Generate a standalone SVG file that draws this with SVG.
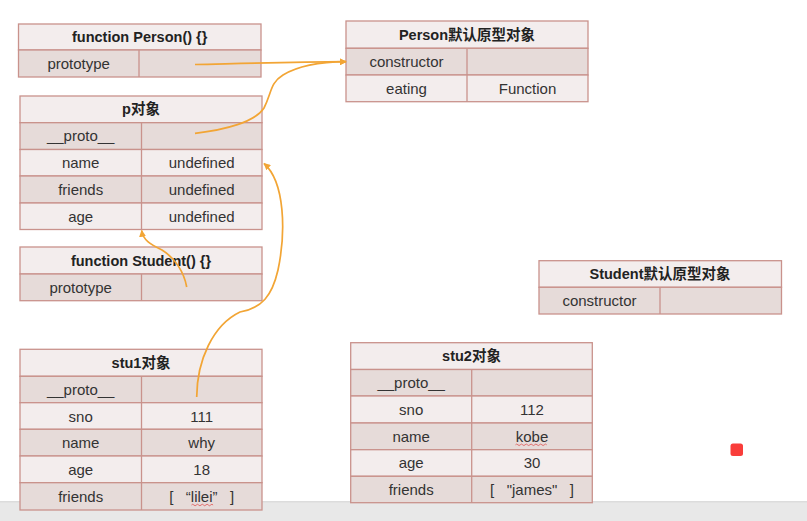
<svg xmlns="http://www.w3.org/2000/svg" width="807" height="521" viewBox="0 0 807 521">
<defs>
<style>
.hd{fill:#f3eded;stroke:#c9928c;stroke-width:1.3}
.dk{fill:#e6dbd9;stroke:#c9928c;stroke-width:1.3}
.lt{fill:#f3eded;stroke:#c9928c;stroke-width:1.3}
.dv{stroke:#c9928c;stroke-width:1.3}
.t{font-family:"Liberation Sans","Noto Sans CJK SC",sans-serif;font-size:15px;fill:#333;text-anchor:middle}
.b{font-family:"Liberation Sans","Noto Sans CJK SC",sans-serif;font-size:14.5px;font-weight:bold;fill:#222;text-anchor:middle}
.c{fill:none;stroke:#f2a535;stroke-width:1.7}
.sq{fill:none;stroke:#e05050;stroke-width:0.8}
</style>
<marker id="ah" viewBox="0 0 10 10" refX="9" refY="5" markerWidth="7" markerHeight="7" markerUnits="userSpaceOnUse" orient="auto">
<path d="M0,0 L10,5 L0,10 Z" fill="#f2a535"/>
</marker>
</defs>
<rect x="0" y="0" width="807" height="521" fill="#ffffff"/>
<rect x="0" y="501" width="807" height="20" fill="#e8e8e8"/>
<rect x="0" y="501" width="807" height="1.5" fill="#dcdcdc"/>

<g id="fnPerson">
<rect class="hd" x="18.5" y="24" width="242.5" height="26"/>
<rect class="dk" x="18.5" y="50" width="242.5" height="27"/>
<line class="dv" x1="139" y1="50" x2="139" y2="77"/>
<text class="b" x="139.7" y="42">function Person() {}</text>
<text class="t" x="78.7" y="69">prototype</text>
</g>

<g id="pObj">
<rect class="hd" x="20" y="96" width="242" height="26.7"/>
<rect class="dk" x="20" y="122.7" width="242" height="26.8"/>
<rect class="lt" x="20" y="149.5" width="242" height="26.5"/>
<rect class="dk" x="20" y="176" width="242" height="27"/>
<rect class="lt" x="20" y="203" width="242" height="26.5"/>
<line class="dv" x1="141.5" y1="122.7" x2="141.5" y2="229.5"/>
<text class="b" x="141" y="114">p对象</text>
<text class="t" x="80.7" y="141">__proto__</text>
<text class="t" x="80.7" y="168">name</text>
<text class="t" x="201.7" y="168">undefined</text>
<text class="t" x="80.7" y="194.5">friends</text>
<text class="t" x="201.7" y="194.5">undefined</text>
<text class="t" x="80.7" y="221.5">age</text>
<text class="t" x="201.7" y="221.5">undefined</text>
</g>

<g id="personProto">
<rect class="hd" x="346" y="21" width="242" height="27.3"/>
<rect class="dk" x="346" y="48.3" width="242" height="26.7"/>
<rect class="lt" x="346" y="75" width="242" height="26.7"/>
<line class="dv" x1="467" y1="48.3" x2="467" y2="101.7"/>
<text class="b" x="467" y="40">Person默认原型对象</text>
<text class="t" x="406.5" y="67">constructor</text>
<text class="t" x="406.5" y="93.5">eating</text>
<text class="t" x="527.5" y="93.5">Function</text>
</g>

<g id="fnStudent">
<rect class="hd" x="20" y="247" width="242" height="27"/>
<rect class="dk" x="20" y="274" width="242" height="26.7"/>
<line class="dv" x1="141.5" y1="274" x2="141.5" y2="300.7"/>
<text class="b" x="141" y="265.5">function Student() {}</text>
<text class="t" x="80.7" y="292.5">prototype</text>
</g>

<g id="stu1">
<rect class="hd" x="20" y="349.3" width="242" height="27"/>
<rect class="dk" x="20" y="376.3" width="242" height="26.4"/>
<rect class="lt" x="20" y="402.7" width="242" height="26.6"/>
<rect class="dk" x="20" y="429.3" width="242" height="26.7"/>
<rect class="lt" x="20" y="456" width="242" height="26.7"/>
<rect class="dk" x="20" y="482.7" width="242" height="27.3"/>
<line class="dv" x1="141.5" y1="376.3" x2="141.5" y2="510"/>
<text class="b" x="141" y="368">stu1对象</text>
<text class="t" x="80.7" y="395">__proto__</text>
<text class="t" x="80.7" y="421.5">sno</text>
<text class="t" x="201.7" y="421.5">111</text>
<text class="t" x="80.7" y="448">name</text>
<text class="t" x="201.7" y="448">why</text>
<text class="t" x="80.7" y="475">age</text>
<text class="t" x="201.7" y="475">18</text>
<text class="t" x="80.7" y="501.5">friends</text>
<text class="t" x="201.7" y="501.5">[&#160;&#160;&#160;“lilei”&#160;&#160;&#160;]</text>
<path class="sq" d="M191.5,505 q1.2,-1.5 2.4,0 t2.4,0 t2.4,0 t2.4,0 t2.4,0 t2.4,0 t2.4,0 t2.4,0 t2.4,0"/>
</g>

<g id="studentProto">
<rect class="hd" x="539" y="260.7" width="242.5" height="26.6"/>
<rect class="dk" x="539" y="287.3" width="242.5" height="26.7"/>
<line class="dv" x1="660" y1="287.3" x2="660" y2="314"/>
<text class="b" x="660" y="279">Student默认原型对象</text>
<text class="t" x="599.5" y="306">constructor</text>
</g>

<g id="stu2">
<rect class="hd" x="350.7" y="342.7" width="241.6" height="26.8"/>
<rect class="dk" x="350.7" y="369.5" width="241.6" height="26.5"/>
<rect class="lt" x="350.7" y="396" width="241.6" height="27"/>
<rect class="dk" x="350.7" y="423" width="241.6" height="26.7"/>
<rect class="lt" x="350.7" y="449.7" width="241.6" height="26.6"/>
<rect class="dk" x="350.7" y="476.3" width="241.6" height="26.4"/>
<line class="dv" x1="471.7" y1="369.5" x2="471.7" y2="502.7"/>
<text class="b" x="471.5" y="361">stu2对象</text>
<text class="t" x="411.2" y="388">__proto__</text>
<text class="t" x="411.2" y="414.5">sno</text>
<text class="t" x="532" y="414.5">112</text>
<text class="t" x="411.2" y="441.5">name</text>
<text class="t" x="532" y="441.5">kobe</text>
<path class="sq" d="M515.5,444.8 q1.2,-1.5 2.4,0 t2.4,0 t2.4,0 t2.4,0 t2.4,0 t2.4,0 t2.4,0 t2.4,0 t2.4,0 t2.4,0 t2.4,0 t2.4,0 t2.4,0"/>
<text class="t" x="411.2" y="468">age</text>
<text class="t" x="532" y="468">30</text>
<text class="t" x="411.2" y="494.5">friends</text>
<text class="t" x="532" y="494.5">[&#160;&#160;&#160;"james"&#160;&#160;&#160;]</text>
</g>

<rect id="dot" x="730.5" y="443.5" width="12.5" height="12.5" rx="2.5" fill="#f93d3a"/>

<g id="connectors">
<path class="c" d="M195,64.5 C240,63.5 290,62 346,61.7" marker-end="url(#ah)"/>
<path class="c" d="M195,133.3 C225,130 255,122 264,108 C272,92 270,83 283,75 C298,66 320,62 346,61.7" marker-end="url(#ah)"/>
<path class="c" d="M186.7,287 C184,272 175,258 162,250 C150,244 143,240 141.7,230.5" marker-end="url(#ah)"/>
<path class="c" d="M196.7,397 C197,360 213,325 240,312 C262,308 272,296 278,270 C286,232 285,182 264,163.5" marker-end="url(#ah)"/>
</g>
</svg>
